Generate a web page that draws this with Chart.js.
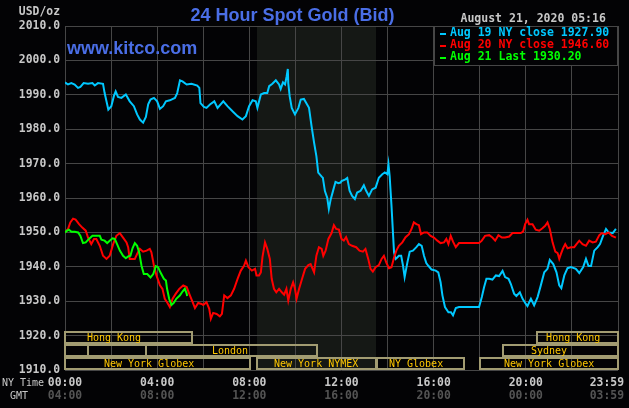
<!DOCTYPE html>
<html lang="en">
  <head>
    <meta charset="UTF-8" />
    <title>24 Hour Spot Gold</title>
    <script src="https://cdn.jsdelivr.net/npm/chart.js@4"></script>
    <style>
      body { margin: 0; background: #030305; }
    </style>
  </head>
  <body>
    <canvas id="Graph" width="629" height="408"></canvas>

    <script>
      // hours of the NY day, price in USD/oz
      const aug19Hours = [0,0.13,0.275,0.42,0.565,0.667,0.81,1.0,1.19,1.29,1.43,1.65,1.72,1.80,1.88,2.01,2.12,2.20,2.30,2.45,
        2.64,2.81,2.99,3.13,3.25,3.39,3.51,3.61,3.71,3.86,4.0,4.12,4.26,4.38,4.55,4.77,4.87,4.99,5.10,5.28,
        5.49,5.74,5.83,5.88,6.03,6.14,6.29,6.48,6.62,6.87,7.05,7.27,7.49,7.70,7.85,7.99,8.14,8.28,8.35,8.50,
        8.64,8.78,8.86,9.0,9.15,9.29,9.36,9.46,9.55,9.62,9.67,9.69,9.75,9.84,9.98,10.13,10.23,10.37,10.47,10.59,
        10.70,10.81,10.91,10.99,11.14,11.19,11.28,11.38,11.45,11.53,11.63,11.74,11.86,11.96,
        12.0,12.17,12.25,12.35,12.46,12.58,12.68,12.83,12.97,13.07,13.19,13.33,13.48,13.62,13.77,13.88,13.99,14.04,14.09,14.17,
        14.28,14.35,14.42,14.49,14.59,14.67,14.74,14.86,14.96,15.10,15.25,15.36,15.48,15.58,15.68,15.77,15.91,16.09,16.20,16.30,
        16.38,16.49,16.64,16.75,16.84,16.96,17.10,17.39,17.68,17.97,
        18.09,18.19,18.29,18.41,18.55,18.70,18.84,18.99,19.10,19.25,19.35,19.49,19.59,19.74,19.86,20.0,20.07,20.22,20.36,20.51,
        20.65,20.80,20.94,21.04,21.19,21.33,21.45,21.54,21.67,21.81,21.96,22.17,22.32,22.49,22.61,22.72,22.83,22.97,23.12,23.22,
        23.33,23.48,23.59,23.77,23.91];
      const aug19Prices = [1993.6,1993.0,1993.4,1993.0,1992.0,1992.3,1993.4,1993.2,1993.4,1992.7,1993.4,1993.2,1990.5,1988.1,1985.7,1986.7,1989.6,1991.0,1989.4,1989.1,
        1990.1,1988.1,1986.7,1984.3,1982.8,1981.9,1983.6,1987.2,1988.6,1989.1,1988.1,1985.9,1986.7,1988.1,1988.4,1989.1,1990.5,1994.2,1993.9,1993.0,
        1993.2,1992.7,1992.0,1987.6,1986.5,1986.2,1987.2,1988.1,1986.2,1988.1,1986.7,1985.2,1983.8,1982.8,1983.8,1986.7,1988.4,1988.1,1986.2,1990.1,
        1990.5,1990.5,1992.5,1993.2,1994.2,1993.0,1991.7,1993.6,1993.0,1995.4,1997.5,1993.4,1989.6,1986.2,1984.3,1986.2,1988.6,1988.8,1987.6,1986.2,
        1980.9,1976.1,1972.2,1967.4,1966.2,1965.9,1962.0,1960.1,1956.8,1959.6,1962.0,1964.7,1964.3,1964.5,
        1964.9,1965.4,1965.8,1962.1,1960.6,1959.7,1961.6,1962.1,1963.7,1962.1,1960.6,1962.5,1963.0,1965.9,1966.9,1967.4,1966.9,1969.8,1966.4,1957.7,
        1944.2,1942.3,1942.7,1943.2,1943.2,1940.3,1937.0,1941.3,1944.4,1944.7,1945.7,1946.6,1946.1,1943.2,1941.1,1940.3,1939.2,1938.9,1938.4,1935.5,
        1931.7,1928.3,1926.8,1926.8,1925.9,1928.0,1928.3,1928.3,1928.3,1928.3,
        1931.2,1934.1,1936.5,1936.5,1936.3,1937.5,1937.3,1938.8,1937.0,1936.5,1935.0,1932.2,1931.5,1932.6,1930.7,1929.2,1928.6,1930.7,1928.8,1931.2,
        1934.6,1938.4,1939.4,1942.0,1940.8,1938.4,1934.6,1933.8,1937.5,1939.6,1939.9,1939.4,1938.2,1939.9,1942.3,1940.2,1940.2,1944.7,1945.7,1946.6,
        1948.6,1951.0,1950.0,1949.8,1951.0];

      const aug20Hours = [0,0.13,0.23,0.35,0.46,0.61,0.75,0.90,1.0,1.14,1.26,1.36,1.51,1.65,1.80,1.94,2.09,2.23,2.38,2.52,
        2.67,2.74,2.81,2.93,3.03,3.13,3.25,3.39,3.54,3.68,3.75,3.86,3.97,4.12,4.23,4.33,4.43,4.55,4.67,4.81,
        4.96,5.13,5.28,5.42,5.54,5.64,5.78,5.93,
        6.0,6.14,6.26,6.33,6.43,6.58,6.72,6.81,6.91,7.05,7.20,7.34,7.49,7.63,7.77,7.85,7.96,8.11,8.25,8.31,
        8.42,8.50,8.57,8.68,8.78,8.89,8.97,9.07,9.17,9.29,9.41,9.51,9.61,9.69,9.80,9.90,9.98,10.05,10.16,10.27,
        10.42,10.56,10.66,10.81,10.91,11.02,11.14,11.21,11.31,11.43,11.57,11.67,11.77,11.89,
        12.0,12.10,12.20,12.32,12.46,12.64,12.78,12.93,13.04,13.16,13.26,13.36,13.48,13.62,13.74,13.84,13.94,14.06,14.17,14.28,
        14.38,14.49,14.64,14.78,14.93,15.04,15.14,15.25,15.36,15.45,15.58,15.72,15.87,16.01,16.16,16.30,16.45,16.55,16.64,16.74,
        16.84,16.96,17.10,17.39,17.68,17.97,
        18.09,18.23,18.41,18.55,18.67,18.81,18.96,19.10,19.28,19.42,19.57,19.78,19.88,19.97,20.07,20.14,20.29,20.43,20.58,20.72,
        20.84,20.94,21.04,21.16,21.28,21.38,21.45,21.52,21.62,21.71,21.81,21.96,22.10,22.20,22.32,22.46,22.61,22.75,22.90,23.04,
        23.19,23.30,23.45,23.59,23.74,23.91];
      const aug20Prices = [1950.0,1951.0,1952.9,1954.0,1953.7,1952.4,1951.4,1950.5,1948.5,1946.6,1948.1,1948.1,1946.1,1943.2,1942.3,1943.2,1946.6,1949.0,1949.8,1948.5,
        1947.1,1945.7,1942.3,1942.3,1942.3,1943.7,1945.2,1944.4,1944.7,1945.2,1944.2,1940.3,1937.5,1934.6,1933.6,1930.7,1929.7,1928.3,1930.7,1932.2,
        1933.6,1934.6,1934.1,1931.7,1929.7,1928.0,1929.5,1929.2,
        1928.9,1929.7,1927.8,1924.9,1926.6,1926.3,1925.6,1926.3,1931.7,1930.9,1931.7,1933.6,1936.5,1938.9,1940.3,1941.8,1939.9,1938.9,1939.4,1937.5,
        1937.5,1938.4,1942.8,1947.1,1945.2,1942.3,1936.5,1933.6,1932.6,1933.6,1932.6,1931.9,1933.6,1930.2,1933.6,1935.5,1933.6,1930.7,1933.6,1936.1,
        1939.4,1940.5,1940.8,1938.4,1943.2,1945.7,1945.2,1943.2,1944.7,1948.1,1949.8,1952.1,1951.0,1950.8,
        1948.1,1947.6,1948.6,1946.6,1946.1,1945.7,1944.7,1944.4,1945.2,1942.3,1939.4,1938.6,1939.9,1940.5,1942.3,1943.2,1941.3,1939.6,1939.9,1942.7,
        1944.7,1946.1,1947.1,1948.6,1949.5,1951.0,1952.9,1952.4,1952.1,1949.5,1950.0,1950.0,1949.0,1948.5,1947.6,1946.9,1947.1,1948.1,1946.6,1949.0,
        1947.3,1945.7,1946.9,1946.9,1946.9,1946.9,
        1947.6,1949.0,1949.2,1948.5,1947.6,1949.2,1948.5,1948.5,1948.8,1949.8,1949.8,1949.8,1950.2,1952.4,1953.7,1952.4,1952.4,1950.8,1950.5,1951.2,
        1951.9,1952.9,1951.0,1947.1,1944.4,1944.0,1942.3,1943.7,1945.4,1946.6,1945.4,1945.7,1945.7,1946.6,1947.6,1946.6,1946.1,1947.6,1947.1,1947.3,
        1949.2,1949.8,1949.5,1950.0,1949.0,1948.5];

      const aug21Hours = [0,0.09,0.17,0.28,0.42,0.57,0.67,0.78,0.90,1.04,1.19,1.33,1.51,1.58,1.72,1.83,1.94,2.06,2.16,2.26,
        2.38,2.52,2.64,2.74,2.84,2.93,3.03,3.13,3.22,3.32,3.42,3.57,3.71,3.83,3.94,4.04,4.14,4.29,4.38,4.43,
        4.52,4.62,4.72,4.83,4.99,5.10,5.20,5.28,5.30];
      const aug21Prices = [1950.0,1950.5,1950.8,1950.2,1950.2,1950.0,1949.0,1946.9,1947.1,1948.1,1949.0,1949.0,1949.0,1947.9,1947.6,1946.9,1947.6,1948.3,1948.1,1946.6,
        1944.7,1943.2,1942.5,1943.0,1943.2,1945.4,1946.9,1946.1,1944.2,1940.3,1937.9,1937.9,1936.9,1937.9,1940.2,1939.9,1938.4,1936.5,1936.0,1933.6,
        1930.7,1928.9,1929.5,1930.7,1931.7,1932.8,1933.6,1932.2,1931.5];

      const legendLabels = ['Aug 19 NY close 1927.90', 'Aug 20 NY close 1946.60', 'Aug 21 Last 1930.20'];
      const nyTimeLabels = ['00:00', '04:00', '08:00', '12:00', '16:00', '20:00', '23:59'];
      const gmtLabels = ['04:00', '08:00', '12:00', '16:00', '20:00', '00:00', '03:59'];
      const labelHours = [0, 4, 8, 12, 16, 20, 24];

      // COMEX trading hours, shaded
      const comexStart = 8.333;
      const comexEnd = 13.5;

      // market sessions: row 0 is the top row
      const sessions = [
        { name: 'Hong Kong', from: 0, to: 5.5, row: 0, at: 0.95 },
        { name: 'Hong Kong', from: 20.5, to: 24, row: 0, at: 20.88 },
        { name: '', from: 0, to: 1, row: 1, at: 0 },
        { name: '', from: 1, to: 3.5, row: 1, at: 0 },
        { name: 'London', from: 3.5, to: 10.95, row: 1, at: 6.38 },
        { name: 'Sydney', from: 19, to: 24, row: 1, at: 20.22 },
        { name: 'New York Globex', from: 0, to: 8.05, row: 2, at: 1.69 },
        { name: 'New York NYMEX', from: 8.33, to: 13.5, row: 2, at: 9.07 },
        { name: 'NY Globex', from: 13.55, to: 17.3, row: 2, at: 14.06 },
        { name: 'New York Globex', from: 18, to: 24, row: 2, at: 19.05 }
      ];

      const colors = ['#00c8ff', '#ff0000', '#00ff00'];
      const gridColor = '#464646';
      const mono = '"DejaVu Sans Mono", monospace';

      function points(hours, prices) {
        return hours.map((h, i) => ({ x: h, y: prices[i] }));
      }

      const kitco = {
        id: 'kitco',
        beforeDraw(chart) {
          const { ctx, chartArea: a, scales: { x } } = chart;
          ctx.save();
          ctx.fillStyle = '#030305';
          ctx.fillRect(0, 0, chart.width, chart.height);
          const x0 = Math.round(x.getPixelForValue(comexStart));
          const x1 = Math.round(x.getPixelForValue(comexEnd));
          ctx.fillStyle = '#151815';
          ctx.fillRect(x0, a.top, x1 - x0, a.bottom - a.top);
          ctx.restore();
        },
        afterDatasetsDraw(chart) {
          const { ctx, chartArea: a, scales: { x, y } } = chart;
          ctx.save();

          // session boxes
          ctx.lineWidth = 2;
          ctx.strokeStyle = '#a29c72';
          ctx.font = '10px ' + mono;
          ctx.fillStyle = '#ffc800';
          ctx.textBaseline = 'middle';
          sessions.forEach(s => {
            const top = a.bottom - 38 + s.row * 13;
            const x0 = Math.round(x.getPixelForValue(s.from));
            const x1 = Math.round(x.getPixelForValue(s.to));
            ctx.strokeRect(x0, top, x1 - x0, 11);
            if (s.name) ctx.fillText(s.name, x.getPixelForValue(s.at), top + 6);
          });

          // legend box
          const lx = Math.round(x.getPixelForValue(16));
          ctx.fillStyle = '#030305';
          ctx.fillRect(lx, a.top, a.right - lx, 39);
          ctx.lineWidth = 1;
          ctx.strokeStyle = gridColor;
          ctx.strokeRect(lx + 0.5, a.top + 0.5, a.right - lx - 1, 39);
          ctx.font = 'bold 11.5px ' + mono;
          legendLabels.forEach((t, i) => {
            const ly = a.top + 7.5 + i * 12;
            ctx.fillStyle = colors[i];
            ctx.fillRect(lx + 6, Math.round(ly) - 1, 6, 2);
            ctx.fillText(t, lx + 16, ly);
          });
          ctx.restore();
        },
        afterDraw(chart) {
          const { ctx, chartArea: a, scales: { x, y } } = chart;
          ctx.save();
          ctx.textBaseline = 'middle';

          // price labels
          ctx.font = 'bold 11.4px ' + mono;
          ctx.fillStyle = '#c8c8c8';
          ctx.textAlign = 'right';
          for (let v = 1910; v <= 2010; v += 10) {
            ctx.fillText(v.toFixed(1), 60, y.getPixelForValue(v));
          }
          ctx.fillText('USD/oz', 60, 12.5);

          // date
          ctx.textAlign = 'left';
          ctx.font = 'bold 11.5px ' + mono;
          ctx.fillText('August 21, 2020 05:16', 460.5, 19);

          // time labels
          ctx.font = 'bold 11.4px ' + mono;
          labelHours.forEach((h, i) => {
            const last = i === labelHours.length - 1;
            ctx.textAlign = last ? 'right' : 'center';
            const px = last ? 624 : x.getPixelForValue(h);
            ctx.fillStyle = '#c8c8c8';
            ctx.fillText(nyTimeLabels[i], px, 383);
            ctx.fillStyle = '#545454';
            ctx.fillText(gmtLabels[i], px, 396);
          });
          ctx.textAlign = 'left';
          ctx.font = '10px ' + mono;
          ctx.fillStyle = '#c8c8c8';
          ctx.fillText('NY Time', 2, 383);
          ctx.fillText('GMT', 10, 396);

          // title and site
          ctx.textBaseline = 'alphabetic';
          ctx.fillStyle = '#4a6ee6';
          ctx.font = 'bold 18px "Liberation Sans", Arial, sans-serif';
          ctx.textAlign = 'center';
          ctx.fillText('24 Hour Spot Gold (Bid)', 292.5, 21);
          ctx.textAlign = 'left';
          ctx.fillText('www.kitco.com', 67, 54);
          ctx.restore();
        }
      };

      const element = document.getElementById('Graph').getContext('2d');
      const Graph = new Chart(element, {
        type: 'line',
        data: {
          datasets: [
            { label: legendLabels[2], data: points(aug21Hours, aug21Prices), borderColor: colors[2] },
            { label: legendLabels[1], data: points(aug20Hours, aug20Prices), borderColor: colors[1] },
            { label: legendLabels[0], data: points(aug19Hours, aug19Prices), borderColor: colors[0] }
          ]
        },
        options: {
          responsive: false,
          animation: false,
          events: [],
          layout: { padding: { left: 65, top: 26, right: 11, bottom: 38 } },
          elements: {
            point: { radius: 0 },
            line: { borderWidth: 2, tension: 0, fill: false }
          },
          plugins: { legend: { display: false }, tooltip: { enabled: false } },
          scales: {
            x: {
              type: 'linear', min: 0, max: 24,
              ticks: { display: false, stepSize: 2 },
              grid: { color: gridColor, drawTicks: false },
              border: { display: false },
              afterFit: s => { s.height = 0; }
            },
            y: {
              min: 1910, max: 2010,
              ticks: { display: false, stepSize: 10 },
              grid: { color: gridColor, drawTicks: false },
              border: { display: false },
              afterFit: s => { s.width = 0; }
            }
          }
        },
        plugins: [kitco]
      });
    </script>
  </body>
</html>
